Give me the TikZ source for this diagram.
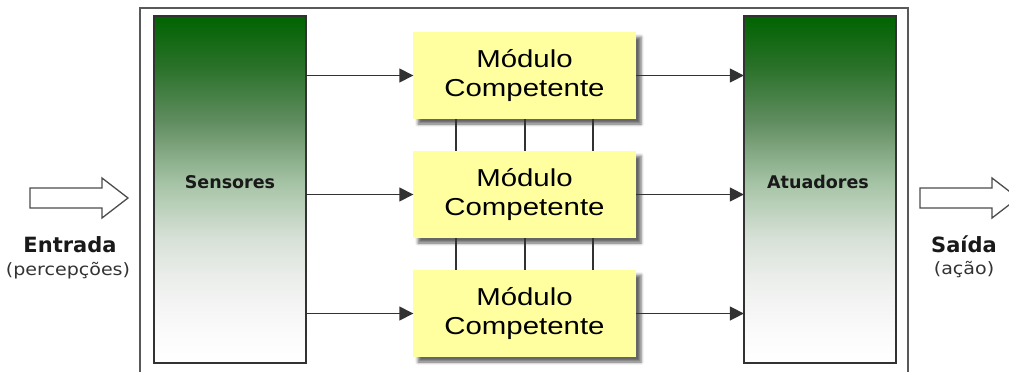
\documentclass[tikz,border=0pt]{standalone}
\usepackage{fontspec}
\setmainfont{DejaVu Sans}
\newfontfamily\modfont[FakeStretch=1.2]{Liberation Sans}
\newfontfamily\lblfont{DejaVu Sans}
\newfontfamily\subfont[FakeStretch=1.12]{DejaVu Sans}
\usetikzlibrary{arrows.meta,shadows.blur,calc}
\definecolor{gA}{RGB}{0,100,0}
\definecolor{gB}{RGB}{40,112,40}
\definecolor{gC}{RGB}{95,140,95}
\definecolor{gD}{RGB}{165,195,165}
\definecolor{gE}{RGB}{215,225,215}
\definecolor{gF}{RGB}{236,238,236}
\definecolor{gG}{RGB}{250,250,250}
\definecolor{modyellow}{RGB}{255,255,160}
\definecolor{linegray}{RGB}{50,50,50}
\pgfdeclareverticalshading{greenfade}{100bp}{color(0bp)=(white); color(25bp)=(white); color(30bp)=(gG); color(37bp)=(gF); color(43bp)=(gE); color(51bp)=(gD); color(60bp)=(gC); color(68bp)=(gB); color(75bp)=(gA); color(100bp)=(gA)}
\tikzset{
  greenbox/.style={draw=linegray, line width=1.3pt, shading=greenfade, minimum width=152pt, minimum height=347pt, inner sep=0pt},
  modbox/.style={fill=modyellow, minimum width=223pt, minimum height=87pt, align=center, inner sep=0pt,
    font=\modfont\fontsize{24.5}{29}\selectfont, text=black,
    blur shadow={shadow xshift=5pt, shadow yshift=-5pt, shadow blur radius=3pt, shadow opacity=60}},
  flow/.style={draw=linegray, line width=1.5pt, -{Triangle[length=14pt, width=14pt]}, shorten >=-0.5pt},
  vline/.style={draw=linegray, line width=1.5pt},
  boxlbl/.style={anchor=base, font=\lblfont\bfseries\fontsize{17.5}{20}\selectfont, text=black!90, inner sep=0pt},
  mainlbl/.style={anchor=base, font=\lblfont\bfseries\fontsize{21}{24}\selectfont, text=black!90, inner sep=0pt},
  sublbl/.style={anchor=base, font=\subfont\fontsize{17}{20}\selectfont, text=black!80, inner sep=0pt},
  hollow/.style={draw=black!70, line width=1.3pt, fill=white, line join=miter},
  frame/.style={draw=black!65, line width=1.5pt}
}
\begin{document}
\begin{tikzpicture}[x=1pt, y=-1pt]
\useasboundingbox (0,0) rectangle (1009,372);
\clip (0,0) rectangle (1009,372);
% outer frame
\draw[frame] (140,8) rectangle (908,400);
% sensors and actuators
\node[greenbox] (sens) at (230,189.5) {};
\node[greenbox] (act) at (820,189.5) {};
\node[boxlbl] (senslbl) at (230,188) {Sensores};
\node[boxlbl] (actlbl) at (818,188) {Atuadores};
% modules
\node[modbox] (m1) at (524.5,75.5) {Módulo\\Competente};
\node[modbox] (m2) at (524.5,194.5) {Módulo\\Competente};
\node[modbox] (m3) at (524.5,313.5) {Módulo\\Competente};
% vertical links
\foreach \f in {0.193,0.502,0.807}{
  \draw[vline] ($(m1.south west)!\f!(m1.south east)$) -- ($(m2.north west)!\f!(m2.north east)$);
  \draw[vline] ($(m2.south west)!\f!(m2.south east)$) -- ($(m3.north west)!\f!(m3.north east)$);
}
% arrows
\foreach \m in {m1,m2,m3}{
  \draw[flow] (\m.west -| sens.east) -- (\m.west);
  \draw[flow] (\m.east) -- (\m.east -| act.west);
}
% input / output hollow arrows
\draw[hollow] (30,188) -- (102,188) -- (102,178) -- (128,198) -- (102,218) -- (102,208) -- (30,208) -- cycle;
\draw[hollow] (920,188) -- (992,188) -- (992,178) -- (1018,198) -- (992,218) -- (992,208) -- (920,208) -- cycle;
\node[mainlbl] (entrada) at (70,252) {Entrada};
\node[sublbl] (percep) at (68,275) {(percepções)};
\node[mainlbl] (saida) at (964,252) {Saída};
\node[sublbl] (acao) at (964,274) {(ação)};
\end{tikzpicture}
\end{document}
